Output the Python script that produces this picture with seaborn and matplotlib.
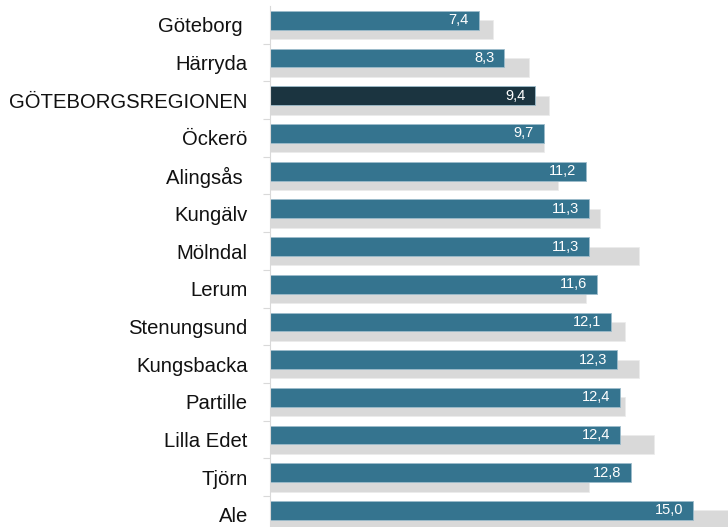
import numpy as np
import pandas as pd
import matplotlib
matplotlib.use("Agg")
import matplotlib.pyplot as plt
import seaborn as sns

# categories top to bottom
kommuner = ["Göteborg ", "Härryda", "GÖTEBORGSREGIONEN", "Öckerö", "Alingsås ",
            "Kungälv", "Mölndal", "Lerum", "Stenungsund", "Kungsbacka",
            "Partille", "Lilla Edet", "Tjörn", "Ale"]
# current values (blue bars, labelled)
varden = [7.4, 8.3, 9.4, 9.7, 11.2, 11.3, 11.3, 11.6, 12.1, 12.3, 12.4, 12.4, 12.8, 15.0]
# comparison values (grey bars behind)
jamforelse = [7.9, 9.2, 9.9, 9.7, 10.2, 11.7, 13.1, 11.2, 12.6, 13.1, 12.6, 13.6, 11.3, 16.6]

BLUE = "#35748f"
DARK = "#1b3440"
GREY = "#d9d9d9"

sns.set_style("white")
plt.rcParams["font.family"] = ["Liberation Sans", "DejaVu Sans"]

pos = np.arange(len(kommuner))
df = pd.DataFrame({
    "kommun": kommuner,
    "varde": varden,
    "jamf": jamforelse,
    "pos_blue": pos - 0.12,
    "pos_grey": pos + 0.13,
})
palette = {k: (DARK if k == "GÖTEBORGSREGIONEN" else BLUE) for k in kommuner}

fig = plt.figure(figsize=(7.28, 5.27), dpi=100)
ax = fig.add_axes([270 / 728, 0, 458 / 728, 1 - 6 / 527])

sns.barplot(data=df, x="jamf", y="pos_grey", orient="h", native_scale=True,
            width=0.5, color=GREY, saturation=1, edgecolor="#ececec",
            linewidth=0.6, ax=ax)
sns.barplot(data=df, x="varde", y="pos_blue", orient="h", native_scale=True,
            width=0.5, hue="kommun", palette=palette, saturation=1, dodge=False,
            legend=False, edgecolor="#9dbccb", linewidth=0.6, ax=ax)

for p, v in zip(df["pos_blue"], df["varde"]):
    ax.text(v - 0.35, p, f"{v:.1f}".replace(".", ","), ha="right", va="center",
            color="white", fontsize=10.5)

ax.set_xlim(0, 458 / 28.2)
ax.set_ylim(-0.5 + 521 / 37.7, -0.5)

ax.set_yticks(pos)
ax.set_yticklabels(kommuner, fontsize=14.6, color="#111111")
ax.set_yticks(pos[:-1] + 0.5, minor=True)
ax.tick_params(axis="y", which="major", length=0, pad=16)
ax.tick_params(axis="y", which="minor", length=5, width=0.8, color=GREY, left=True)
ax.set_xticks([])
ax.set_xlabel("")
ax.set_ylabel("")

for s in ["top", "right", "bottom"]:
    ax.spines[s].set_visible(False)
ax.spines["left"].set_color(GREY)
ax.spines["left"].set_linewidth(0.8)

fig.savefig("out.png", dpi=100)
